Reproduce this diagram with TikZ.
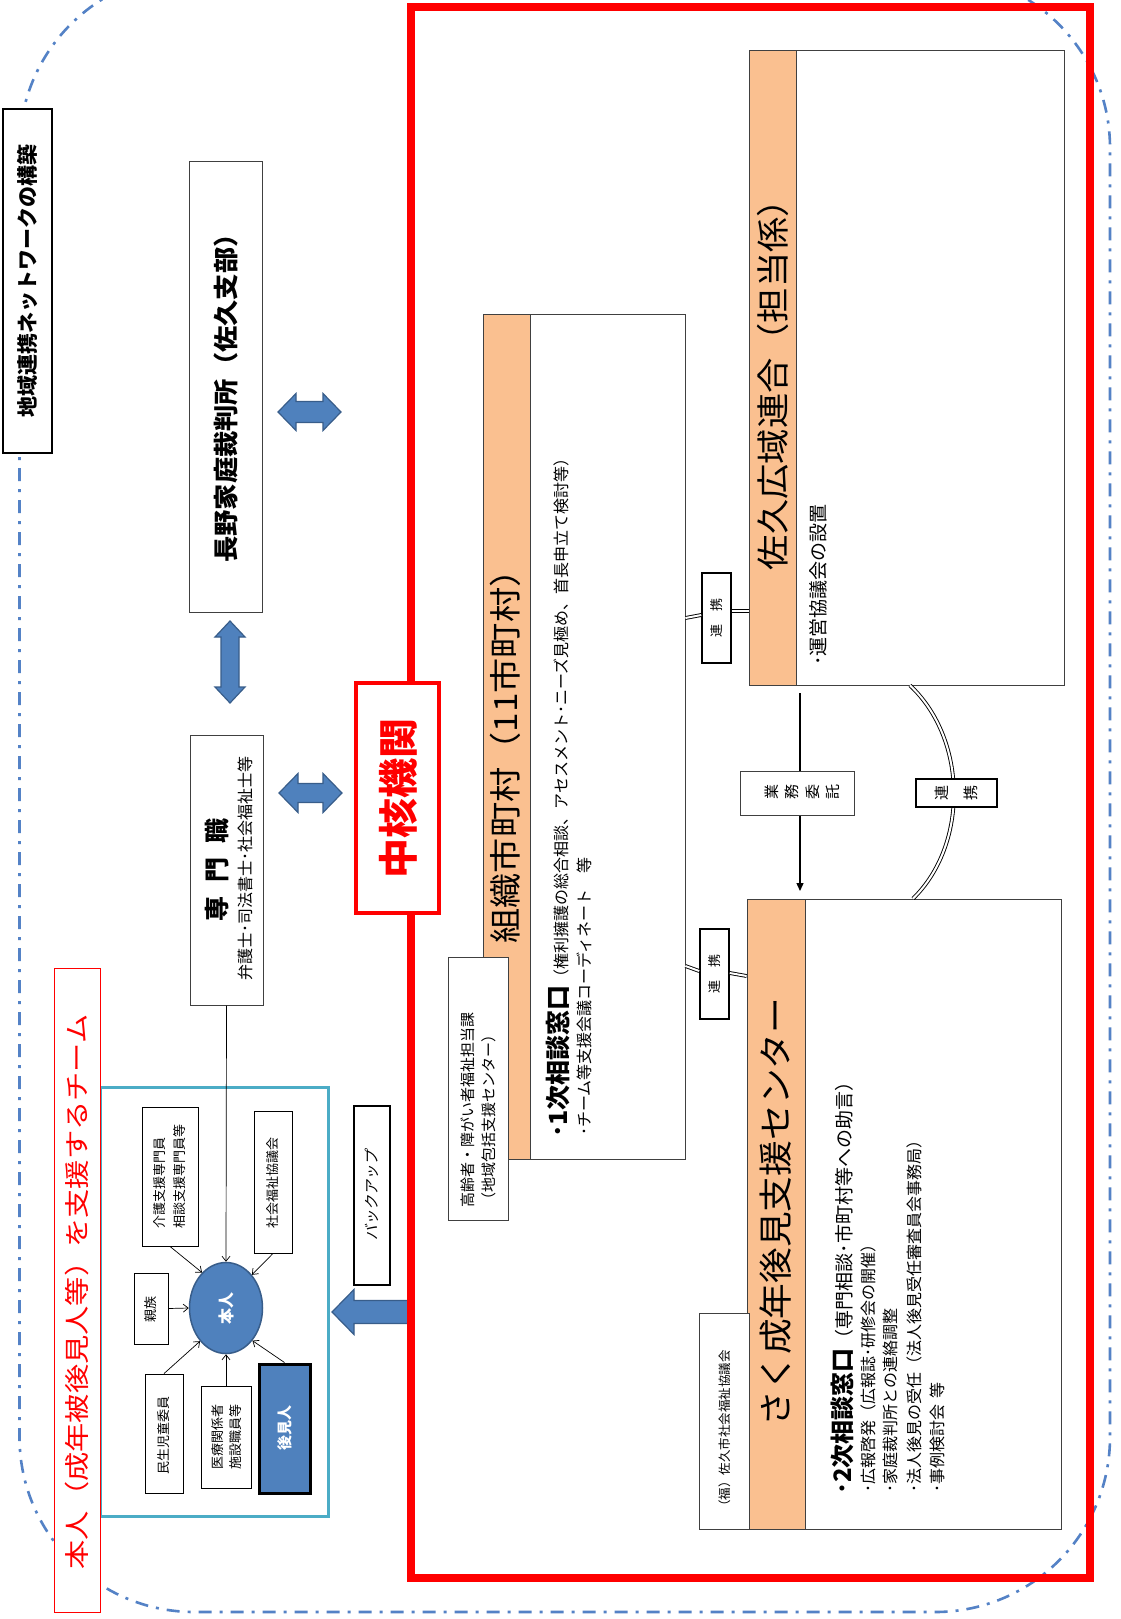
\documentclass[tikz,border=0pt]{standalone}
\usepackage{fontspec}
\usepackage{graphicx}
\setmainfont{Noto Sans CJK JP}
\usetikzlibrary{fit,arrows.meta,shapes.geometric}
\definecolor{orangeband}{RGB}{250,192,144}
\definecolor{boxgray}{RGB}{64,64,64}
\definecolor{bfill}{RGB}{79,129,189}
\definecolor{bdraw}{RGB}{56,93,138}
\definecolor{tealbox}{RGB}{75,172,198}
\definecolor{dashblue}{RGB}{84,130,198}
\newcommand\fsz[1]{\fontsize{#1}{#1}\selectfont}
\newcommand\hdarrow[6]{%
\draw[blockarrow] ({#1-#3/2},{#2}) -- ({#1-#3/2+#6},{#2-#4/2}) -- ({#1-#3/2+#6},{#2-#5/2}) -- ({#1+#3/2-#6},{#2-#5/2}) -- ({#1+#3/2-#6},{#2-#4/2}) -- ({#1+#3/2},{#2}) -- ({#1+#3/2-#6},{#2+#4/2}) -- ({#1+#3/2-#6},{#2+#5/2}) -- ({#1-#3/2+#6},{#2+#5/2}) -- ({#1-#3/2+#6},{#2+#4/2}) -- cycle;}
\newcommand\vdarrow[6]{%
\draw[blockarrow] ({#1},{#2-#3/2}) -- ({#1-#4/2},{#2-#3/2+#6}) -- ({#1-#5/2},{#2-#3/2+#6}) -- ({#1-#5/2},{#2+#3/2-#6}) -- ({#1-#4/2},{#2+#3/2-#6}) -- ({#1},{#2+#3/2}) -- ({#1+#4/2},{#2+#3/2-#6}) -- ({#1+#5/2},{#2+#3/2-#6}) -- ({#1+#5/2},{#2-#3/2+#6}) -- ({#1+#4/2},{#2-#3/2+#6}) -- cycle;}
\begin{document}
\begin{tikzpicture}[x=1pt,y=-1pt,
  box/.style={draw=boxgray,line width=0.8pt,fill=white,inner sep=0pt},
  band/.style={draw=boxgray,line width=0.8pt,fill=orangeband,inner sep=0pt},
  rot/.style={rotate=90,inner sep=0pt},
  tagbox/.style={draw=black,line width=1.6pt,fill=white,inner sep=0pt},
  blockarrow/.style={fill=bfill,draw=bdraw,line width=1.2pt},
  pointer/.style={draw=black,line width=0.7pt,-{Straight Barb[length=5pt,width=8pt]}},
  link/.style={draw=black,double=white,double distance=2pt,line width=0.9pt},
]
\fill[white] (0,0) rectangle (1120,1619);
\useasboundingbox (0,0) rectangle (1120,1619);
\begin{scope}
\clip (0,0) rectangle (1120,1619);
\draw[dashblue,line width=2.6pt,dash pattern=on 13pt off 8pt on 3pt off 8pt,rounded corners=175pt] (19.5,-27) rectangle (1110,1612);
\end{scope}

% title
\node[tagbox,line width=2.5pt,fit={(3,109)(52,453)}] (title) {};
\node[rot,font=\bfseries\fsz{21}] (titletxt) at (title.center) {地域連携ネットワークの構築};

% court
\node[box,line width=1pt,fit={(189,161)(262,612)}] (court) {};
\node[rot,font=\bfseries\fsz{25}] (courttxt) at (226,392) {\scalebox{1.05}[1]{長野家庭裁判所（佐久支部）}};

% block arrows
\hdarrow{309.5}{412}{63}{37}{21}{18}
\vdarrow{230}{662}{82}{30}{18}{16}
\hdarrow{310.5}{793}{63}{39}{19}{19}

% senmon
\node[box,line width=1pt,fit={(190,735)(263,1005)}] (senmon) {};
\node[rot,font=\bfseries\fsz{25}] (senmontxt) at (217,870) {専\hspace{14pt}門\hspace{14pt}職};
\node[rot,font=\fsz{16}] (senmonsub) at (245,868) {弁護士･司法書士･社会福祉士等};

% team box and label
\node[draw=tealbox,line width=3pt,inner sep=0pt,fit={(100,1087)(328,1516)}] (team) {};
\node[draw=red,line width=1pt,fill=white,inner sep=0pt,fit={(54,968)(100,1612)}] (teamlabel) {};
\node[rot,text=red,font=\fsz{25}] (teamlabeltxt) at (77,1292) {\scalebox{1.17}[1]{本人（成年被後見人等）を支援するチーム}};

% honnin
\node[ellipse,fill=bfill,draw=bdraw,line width=1.5pt,minimum width=73pt,minimum height=91pt,inner sep=0pt] (honnin) at (226,1308) {};
\node[rot,text=white,font=\bfseries\fsz{16}] (honnintxt) at (honnin.center) {本人};

\node[box,draw=black,line width=0.9pt,fit={(142,1107)(198,1246)}] (kaigo) {};
\node[rot,align=left,font=\fontsize{13}{20}\selectfont] (kaigotxt) at (kaigo.center) {介護支援専門員\\相談支援専門員等};
\node[box,draw=black,line width=0.9pt,fit={(254,1111)(292,1253)}] (shakyo) {};
\node[rot,font=\fsz{13}] (shakyotxt) at (273,1183) {社会福祉協議会};
\node[box,draw=black,line width=0.9pt,fit={(134,1273)(168,1344)}] (shinzoku) {};
\node[rot,font=\fsz{13}] (shinzokutxt) at (151,1309) {親族};
\node[box,draw=black,line width=0.9pt,fit={(145,1374)(183,1493)}] (minsei) {};
\node[rot,font=\fsz{13}] (minseitxt) at (164,1435) {民生児童委員};
\node[box,draw=black,line width=0.9pt,fit={(201,1386)(251,1488)}] (iryo) {};
\node[rot,align=left,font=\fontsize{13}{18}\selectfont] (iryotxt) at (227,1437) {医療関係者\\施設職員等};
\node[draw=black,line width=3pt,fill=bfill,inner sep=0pt,fit={(259,1364)(310,1493)}] (kouken) {};
\node[rot,text=white,font=\bfseries\fsz{15}] (koukentxt) at (285,1428) {後見人};

\draw[pointer] (senmon.south) -- (honnin.north);
\draw[pointer] (kaigo.south) -- (honnin.124);
\draw[pointer] (shakyo.south) -- (honnin.52);
\draw[pointer] (shinzoku.east) -- (honnin.west);
\draw[pointer] (minsei.north) -- (honnin.232);
\draw[pointer] (iryo.north) -- (honnin.south);
\draw[pointer] (kouken.north) -- (honnin.309);

% backup
\node[tagbox,line width=2.5pt,fit={(354,1106)(390,1285)}] (backup) {};
\node[rot,font=\fsz{15}] (backuptxt) at (372,1195) {\addfontfeature{FakeSlant=0.2}バックアップ};
\draw[blockarrow] (332,1312) -- (354,1289.5) -- (354,1300.5) -- (412,1300.5) -- (412,1323.5) -- (354,1323.5) -- (354,1334.5) -- cycle;

% big red frame
\node[draw=red,line width=7.5pt,inner sep=0pt,fit={(411,7)(1090,1578)}] (frame) {};
\node[draw=red,line width=4pt,fill=white,inner sep=0pt,fit={(356,683)(439,913)}] (chukaku) {};
\node[rot,text=red,font=\bfseries\fsz{40}] (chukakutxt) at (398,798) {中核機関};

% soshiki
\node[box,fit={(483,314)(685,1159)}] (soshiki) {};
\node[band,fit={(483,314)(530,1159)}] (soshikiband) {};
\node[rot,font=\fsz{32}] (soshikitxt) at (505,748) {\scalebox{1.1}[1]{組織市町村（11市町村）}};
\node[rot,anchor=west,font=\fsz{16}] (soshikiL1) at (558,1138) {{\bfseries\fsz{25}･1次相談窓口}（権利擁護の総合相談、アセスメント･ニーズ見極め、首長申立て検討等）};
\node[rot,anchor=west,font=\fsz{16}] (soshikiL2) at (584,1136) {･チーム等支援会議コーディネート　等};
\node[box,fit={(448,957)(508,1220)}] (kourei) {};
\node[rot,anchor=west,align=left,font=\fontsize{15}{21}\selectfont] (koureitxt) at (478,1208) {高齢者・障がい者福祉担当課\\（地域包括支援センター）};

% kouiki
\node[box,fit={(749,50)(1064,685)}] (kouiki) {};
\node[band,fit={(749,50)(796,685)}] (kouikiband) {};
\node[rot,font=\fsz{33}] (kouikitxt) at (773,376) {\scalebox{1.07}[1]{佐久広域連合（担当係）}};
\node[rot,anchor=west,font=\fsz{19}] (kouikiL1) at (818,666) {･運営協議会の設置};

% sakuc
\node[box,fit={(747,899)(1061,1529)}] (sakuc) {};
\node[band,fit={(747,899)(805,1529)}] (sakucband) {};
\node[rot,font=\fsz{34}] (sakuctxt) at (776,1212) {\scalebox{1.05}[1]{さく成年後見支援センター}};
\node[box,fit={(699,1313)(749,1529)}] (fuku) {};
\node[rot,anchor=west,font=\fsz{12.5}] (fukutxt) at (725,1513) {（福）佐久市社会福祉協議会};
\node[rot,anchor=west,font=\fsz{19}] (sakucL1) at (842,1495) {{\bfseries\fsz{24}･2次相談窓口}（専門相談･市町村等への助言）};
\node[rot,anchor=west,font=\fsz{16}] (sakucL2) at (868,1493) {･広報啓発（広報誌･研修会の開催）};
\node[rot,anchor=west,font=\fsz{16}] (sakucL3) at (890,1493) {･家庭裁判所との連絡調整};
\node[rot,anchor=west,font=\fsz{16}] (sakucL4) at (914,1493) {･法人後見の受任（法人後見受任審査員会事務局）};
\node[rot,anchor=west,font=\fsz{16}] (sakucL5) at (937,1493) {･事例検討会\hspace{6pt}等};

% renkei connectors
\node[tagbox,fit={(702,573)(731,663)}] (renkei1) {};
\node[rot,font=\fsz{13}] (renkei1txt) at (renkei1.center) {連　携};
\draw[link] (soshiki.east |- 0,618) -- (renkei1.west |- 0,615);
\draw[link] (renkei1.east |- 0,611) -- (kouiki.west |- 0,611);

\node[tagbox,fit={(700,929)(729,1019)}] (renkei2) {};
\node[rot,font=\fsz{13}] (renkei2txt) at (renkei2.center) {連　携};
\draw[link] (soshiki.east |- 0,966) -- (renkei2.west |- 0,971);
\draw[link] (renkei2.east |- 0,973) -- (sakuc.west |- 0,976);

\coordinate (arcA) at (kouiki.south -| 910,0);
\coordinate (arcB) at (sakuc.north -| 913,0);
\draw[link] (arcA) .. controls (968,740) and (968,845) .. (arcB);
\node[tagbox,fit={(916,779)(997,807)}] (renkei3) {};
\node[font=\fsz{15},inner sep=0pt] (renkei3txt) at (renkei3.center) {\rotatebox{90}{連}\hspace{15pt}\rotatebox{90}{携}};

% gyomu itaku
\node[box,line width=1pt,fit={(740,771)(854,815)}] (gyomu) {};
\node[font=\fsz{15},inner sep=0pt] (gyomutxt) at (802,792) {\rotatebox{90}{業}\hspace{6.5pt}\rotatebox{90}{務}\hspace{6.5pt}\rotatebox{90}{委}\hspace{6.5pt}\rotatebox{90}{託}};
\coordinate (gyA) at (800,693);
\coordinate (gyB) at (800,891);
\draw[line width=1.3pt] (gyA) -- (gyomu.north -| gyA);
\draw[line width=1.3pt,-{Triangle[length=8pt,width=7pt]}] (gyomu.south -| gyA) -- (gyB);
\end{tikzpicture}
\end{document}
